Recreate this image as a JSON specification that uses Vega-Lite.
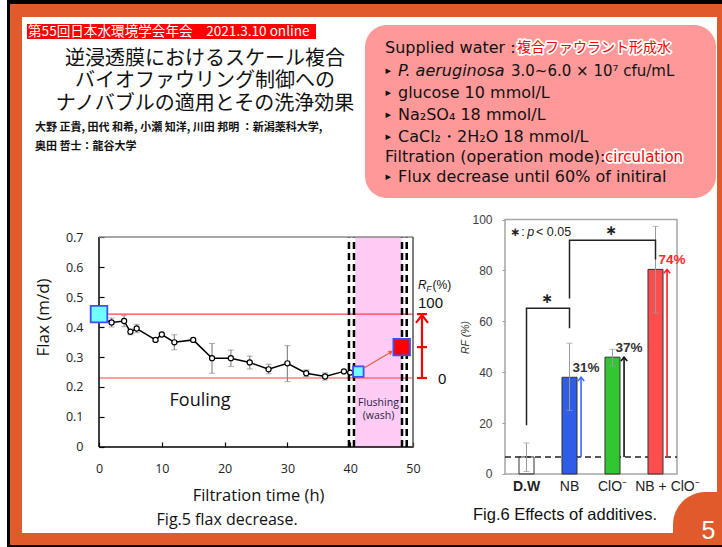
{
"$schema": "https://vega.github.io/schema/vega-lite/v6.json",
"background": "#ffffff",
"padding": {"left": 7, "top": 0, "right": 0, "bottom": 0},
"spacing": 0,
"config": {"view": {"stroke": null}, "axis": {"grid": false}},
"datasets": {
  "flux": [
    {"t": 0, "flux": 0.43, "lo": 0.42, "hi": 0.44},
    {"t": 2, "flux": 0.415, "lo": 0.4, "hi": 0.43},
    {"t": 4, "flux": 0.42, "lo": 0.401, "hi": 0.438},
    {"t": 5, "flux": 0.384, "lo": 0.374, "hi": 0.394},
    {"t": 6, "flux": 0.395, "lo": 0.381, "hi": 0.409},
    {"t": 9, "flux": 0.357, "lo": 0.352, "hi": 0.362},
    {"t": 10, "flux": 0.375, "lo": 0.369, "hi": 0.381},
    {"t": 12, "flux": 0.349, "lo": 0.324, "hi": 0.374},
    {"t": 15, "flux": 0.357, "lo": 0.353, "hi": 0.361},
    {"t": 18, "flux": 0.296, "lo": 0.246, "hi": 0.345},
    {"t": 21, "flux": 0.296, "lo": 0.268, "hi": 0.323},
    {"t": 24, "flux": 0.282, "lo": 0.26, "hi": 0.303},
    {"t": 27, "flux": 0.259, "lo": 0.244, "hi": 0.276},
    {"t": 30, "flux": 0.279, "lo": 0.218, "hi": 0.338},
    {"t": 33, "flux": 0.246, "lo": 0.235, "hi": 0.257},
    {"t": 36, "flux": 0.235, "lo": 0.223, "hi": 0.247},
    {"t": 39, "flux": 0.252, "lo": 0.248, "hi": 0.256},
    {"t": 40, "flux": 0.248, "lo": 0.244, "hi": 0.252}
  ],
  "squares": [
    {"t": 0, "flux": 0.443, "kind": "initial"},
    {"t": 41.3, "flux": 0.251, "kind": "fouled"},
    {"t": 48.2, "flux": 0.333, "kind": "flushed"}
  ],
  "additives": [
    {"cat": "D.W", "rf": 6.7, "lo": 1, "hi": 12.2},
    {"cat": "NB", "rf": 38.0, "lo": 25.0, "hi": 51.4, "gain": "31%"},
    {"cat": "ClO⁻", "rf": 45.9, "lo": 42.4, "hi": 49.0, "gain": "37%"},
    {"cat": "NB + ClO⁻", "rf": 80.4, "lo": 63.2, "hi": 97.3, "gain": "74%"}
  ],
  "brackets": [
    {"g": "a", "o": 1, "cat": "D.W", "y": 19.2},
    {"g": "a", "o": 2, "cat": "D.W", "y": 65.1},
    {"g": "a", "o": 3, "cat": "NB", "y": 65.1},
    {"g": "a", "o": 4, "cat": "NB", "y": 57.3},
    {"g": "b", "o": 1, "cat": "NB", "y": 69.0},
    {"g": "b", "o": 2, "cat": "NB", "y": 91.8},
    {"g": "b", "o": 3, "cat": "NB + ClO⁻", "y": 91.8},
    {"g": "b", "o": 4, "cat": "NB + ClO⁻", "y": 84.3}
  ]
},
"vconcat": [
  {"width": 715, "height": 4, "view": {"fill": "#000000"}, "data": {"values": []}, "mark": "rect", "encoding": {}},
  {"spacing": 0, "hconcat": [
    {"width": 3, "height": 543, "view": {"fill": "#000000"}, "data": {"values": []}, "mark": "rect", "encoding": {}},
    {"spacing": 0, "vconcat": [
      {"width": 712, "height": 13, "view": {"fill": "#E15A2B"}, "data": {"values": []}, "mark": "rect", "encoding": {}},
      {"spacing": 0, "hconcat": [
        {"width": 12, "height": 528, "view": {"fill": "#E15A2B"}, "data": {"values": []}, "mark": "rect", "encoding": {}},
        {"spacing": 0, "vconcat": [
          {"spacing": 0, "hconcat": [
            {"width": 338, "height": 188,
             "layer": [
               {"data": {"values": [{"k": "conference"}]},
                "mark": {"type": "rect", "fill": "#FF0000"},
                "encoding": {
                  "x": {"datum": 5, "type": "quantitative", "scale": {"domain": [0, 338], "nice": false, "zero": false}, "axis": null},
                  "x2": {"datum": 294},
                  "y": {"datum": 7, "type": "quantitative", "scale": {"domain": [0, 188], "nice": false, "zero": false, "reverse": true}, "axis": null},
                  "y2": {"datum": 22}}},
               {"data": {"values": [{"s": "第55回日本水環境学会年会　2021.3.10 online"}]},
                "mark": {"type": "text", "align": "left", "baseline": "middle", "fill": "#FFFFFF", "font": "Noto Sans CJK JP", "fontSize": 13.6},
                "encoding": {"text": {"field": "s"}, "x": {"datum": 6, "axis": null}, "y": {"datum": 14.6, "axis": null}}},
               {"data": {"values": [{"s": ["逆浸透膜におけるスケール複合", "バイオファウリング制御への", "ナノバブルの適用とその洗浄効果"]}]},
                "mark": {"type": "text", "align": "center", "baseline": "middle", "fill": "#111111", "font": "Noto Sans CJK JP", "fontSize": 20, "lineHeight": 22.3},
                "encoding": {"text": {"field": "s"}, "x": {"datum": 183, "axis": null}, "y": {"datum": 42, "axis": null}}},
               {"data": {"values": [{"s": ["大野 正貴, 田代 和希, 小瀬 知洋, 川田 邦明 ：新潟薬科大学,", "奥田 哲士：龍谷大学"]}]},
                "mark": {"type": "text", "align": "left", "baseline": "middle", "fill": "#111111", "font": "Noto Sans CJK JP", "fontSize": 11, "fontWeight": "bold", "lineHeight": 19},
                "encoding": {"text": {"field": "s"}, "x": {"datum": 13, "axis": null}, "y": {"datum": 110.5, "axis": null}}}
             ]},
            {"width": 357, "height": 188,
             "layer": [
               {"data": {"values": [{"k": "conditions"}]},
                "mark": {"type": "rect", "fill": "#FF9999", "cornerRadius": 22},
                "encoding": {
                  "x": {"datum": 5, "type": "quantitative", "scale": {"domain": [0, 357], "nice": false, "zero": false}, "axis": null},
                  "x2": {"datum": 356},
                  "y": {"datum": 8, "type": "quantitative", "scale": {"domain": [0, 188], "nice": false, "zero": false, "reverse": true}, "axis": null},
                  "y2": {"datum": 181}}},
               {"data": {"values": [{"s": "Supplied water :"}]},
                "mark": {"type": "text", "align": "left", "baseline": "middle", "fill": "#111111", "font": "DejaVu Sans", "fontSize": 16},
                "encoding": {"text": {"field": "s"}, "x": {"datum": 25, "axis": null}, "y": {"datum": 31.3, "axis": null}}},
               {"data": {"values": [{"s": ["▸", "▸", "▸", "▸"]}]},
                "mark": {"type": "text", "align": "left", "baseline": "middle", "fill": "#111111", "font": "DejaVu Sans", "fontSize": 11, "lineHeight": 22},
                "encoding": {"text": {"field": "s"}, "x": {"datum": 25.5, "axis": null}, "y": {"datum": 53.7, "axis": null}}},
               {"data": {"values": [{"s": "P. aeruginosa"}]},
                "mark": {"type": "text", "align": "left", "baseline": "middle", "fill": "#111111", "font": "DejaVu Sans", "fontSize": 16, "fontStyle": "italic"},
                "encoding": {"text": {"field": "s"}, "x": {"datum": 38, "axis": null}, "y": {"datum": 53.7, "axis": null}}},
               {"data": {"values": [{"s": "3.0~6.0 × 10⁷ cfu/mL"}]},
                "mark": {"type": "text", "align": "left", "baseline": "middle", "fill": "#111111", "font": "DejaVu Sans", "fontSize": 15},
                "encoding": {"text": {"field": "s"}, "x": {"datum": 151, "axis": null}, "y": {"datum": 53.7, "axis": null}}},
               {"data": {"values": [{"s": ["glucose 10 mmol/L", "Na₂SO₄ 18 mmol/L", "CaCl₂・2H₂O 18 mmol/L"]}]},
                "mark": {"type": "text", "align": "left", "baseline": "middle", "fill": "#111111", "font": "DejaVu Sans", "fontSize": 16, "lineHeight": 22},
                "encoding": {"text": {"field": "s"}, "x": {"datum": 38, "axis": null}, "y": {"datum": 75.7, "axis": null}}},
               {"data": {"values": [{"s": "Filtration (operation mode):"}]},
                "mark": {"type": "text", "align": "left", "baseline": "middle", "fill": "#111111", "font": "DejaVu Sans", "fontSize": 16},
                "encoding": {"text": {"field": "s"}, "x": {"datum": 25, "axis": null}, "y": {"datum": 139.7, "axis": null}}},
               {"data": {"values": [{"s": "▸"}]},
                "mark": {"type": "text", "align": "left", "baseline": "middle", "fill": "#111111", "font": "DejaVu Sans", "fontSize": 11},
                "encoding": {"text": {"field": "s"}, "x": {"datum": 25.5, "axis": null}, "y": {"datum": 159.7, "axis": null}}},
               {"data": {"values": [{"s": "Flux decrease until 60% of initiral"}]},
                "mark": {"type": "text", "align": "left", "baseline": "middle", "fill": "#111111", "font": "DejaVu Sans", "fontSize": 16},
                "encoding": {"text": {"field": "s"}, "x": {"datum": 38, "axis": null}, "y": {"datum": 159.7, "axis": null}}},
               {"data": {"values": [{"s": "複合ファウラント形成水"}]},
                "mark": {"type": "text", "align": "left", "baseline": "middle", "fill": "#FFFFFF", "stroke": "#FFFFFF", "strokeWidth": 3.5, "strokeJoin": "round", "font": "Noto Sans CJK JP", "fontSize": 14},
                "encoding": {"text": {"field": "s"}, "x": {"datum": 157, "axis": null}, "y": {"datum": 31.3, "axis": null}}},
               {"data": {"values": [{"s": "複合ファウラント形成水"}]},
                "mark": {"type": "text", "align": "left", "baseline": "middle", "fill": "#FF0000", "font": "Noto Sans CJK JP", "fontSize": 14},
                "encoding": {"text": {"field": "s"}, "x": {"datum": 157, "axis": null}, "y": {"datum": 31.3, "axis": null}}},
               {"data": {"values": [{"s": "circulation"}]},
                "mark": {"type": "text", "align": "left", "baseline": "middle", "fill": "#FFFFFF", "stroke": "#FFFFFF", "strokeWidth": 3.5, "strokeJoin": "round", "font": "DejaVu Sans", "fontSize": 15},
                "encoding": {"text": {"field": "s"}, "x": {"datum": 245, "axis": null}, "y": {"datum": 139.7, "axis": null}}},
               {"data": {"values": [{"s": "circulation"}]},
                "mark": {"type": "text", "align": "left", "baseline": "middle", "fill": "#FF0000", "font": "DejaVu Sans", "fontSize": 15},
                "encoding": {"text": {"field": "s"}, "x": {"datum": 245, "axis": null}, "y": {"datum": 139.7, "axis": null}}}
             ]}
          ]},
          {"spacing": 0, "hconcat": [
            {"width": 435, "height": 340,
             "layer": [
               {"data": {"values": [{"phase": "flushing"}]},
                "mark": {"type": "rect", "fill": "#FFCCF6"},
                "encoding": {"x": {"datum": 40.8, "type": "quantitative"}, "x2": {"datum": 48.2}, "y": {"datum": 0, "type": "quantitative"}, "y2": {"datum": 0.7}}},
               {"data": {"values": [{"f": 0.443}, {"f": 0.23}]},
                "mark": {"type": "rule", "stroke": "#FF4040", "strokeWidth": 1.2},
                "encoding": {"y": {"field": "f", "type": "quantitative", "title": "Flax (m/d)"}, "x": {"datum": 0}, "x2": {"datum": 50}}},
               {"data": {"values": [{"t": 39.8}, {"t": 40.6}, {"t": 48.25}, {"t": 49.0}]},
                "mark": {"type": "rule", "stroke": "#000000", "strokeWidth": 2.5, "strokeDash": [7, 4]},
                "encoding": {"x": {"field": "t", "type": "quantitative", "title": "Filtration time (h)"}, "y": {"datum": 0}, "y2": {"datum": 0.7}}},
               {"data": {"values": [{"edge": "left"}]},
                "mark": {"type": "rule", "stroke": "#000000", "strokeWidth": 1.5},
                "encoding": {"x": {"datum": 0}, "y": {"datum": 0}, "y2": {"datum": 0.7}}},
               {"data": {"values": [{"edge": "bottom"}]},
                "mark": {"type": "rule", "stroke": "#000000", "strokeWidth": 1.5},
                "encoding": {"y": {"datum": 0}, "x": {"datum": 0}, "x2": {"datum": 50}}},
               {"data": {"values": [{"edge": "top"}]},
                "mark": {"type": "rule", "stroke": "#8A8A8A", "strokeWidth": 1.5},
                "encoding": {"y": {"datum": 0.7}, "x": {"datum": 0}, "x2": {"datum": 50}}},
               {"data": {"values": [{"edge": "right"}]},
                "mark": {"type": "rule", "stroke": "#555555", "strokeWidth": 1.5},
                "encoding": {"x": {"datum": 50}, "y": {"datum": 0}, "y2": {"datum": 0.7}}},
               {"data": {"name": "flux"},
                "mark": {"type": "errorbar", "ticks": {"size": 6, "color": "#8A8A8A", "strokeWidth": 1.2}, "rule": {"color": "#8A8A8A", "strokeWidth": 1.2}},
                "encoding": {"x": {"field": "t", "type": "quantitative", "title": "Filtration time (h)"}, "y": {"field": "lo", "type": "quantitative", "title": "Flax (m/d)"}, "y2": {"field": "hi"}}},
               {"data": {"name": "flux"},
                "mark": {"type": "line", "stroke": "#000000", "strokeWidth": 1.5},
                "encoding": {
                  "x": {"field": "t", "type": "quantitative", "title": "Filtration time (h)",
                        "scale": {"domain": [-12.261, 57.006], "nice": false, "zero": false},
                        "axis": {"orient": "bottom", "offset": -98, "values": [0, 10, 20, 30, 40, 50], "domain": false, "grid": false,
                                 "ticks": true, "tickSize": -5, "tickWidth": 1.2, "tickColor": "#000000",
                                 "labelPadding": 20, "labelFont": "Open Sans", "labelFontSize": 12.5, "labelColor": "#222222", "labelFlush": false,
                                 "title": "Filtration time (h)", "titleFont": "Open Sans", "titleFontSize": 16.5, "titleFontWeight": "normal", "titleColor": "#111111",
                                 "titleX": 236, "titleY": 48, "titleBaseline": "middle", "titleAlign": "center"}},
                  "y": {"field": "flux", "type": "quantitative", "title": "Flax (m/d)",
                        "scale": {"domain": [-0.32667, 0.80667], "nice": false, "zero": false},
                        "axis": {"orient": "left", "offset": -77, "values": [0, 0.1, 0.2, 0.3, 0.4, 0.5, 0.6, 0.7], "format": ".1~f", "domain": false, "grid": false,
                                 "ticks": true, "tickSize": -5, "tickWidth": 1.2, "tickColor": "#000000",
                                 "labelPadding": 21, "labelFont": "Open Sans", "labelFontSize": 12.5, "labelColor": "#222222", "labelFlush": false,
                                 "title": "Flax (m/d)", "titleFont": "Open Sans", "titleFontSize": 17, "titleFontWeight": "normal", "titleColor": "#111111",
                                 "titleX": -56, "titleY": 112, "titleAngle": -90, "titleBaseline": "middle", "titleAlign": "center"}}}},
               {"data": {"name": "flux"},
                "mark": {"type": "point", "shape": "circle", "filled": true, "fill": "#FFFFFF", "stroke": "#000000", "strokeWidth": 1.2, "size": 26, "opacity": 1},
                "encoding": {"x": {"field": "t", "type": "quantitative", "title": "Filtration time (h)"}, "y": {"field": "flux", "type": "quantitative", "title": "Flax (m/d)"}}},
               {"data": {"name": "squares"},
                "mark": {"type": "point", "shape": "square", "filled": true, "stroke": "#3F4FFF", "strokeWidth": 1.8, "opacity": 1},
                "encoding": {
                  "x": {"field": "t", "type": "quantitative", "title": "Filtration time (h)"}, "y": {"field": "flux", "type": "quantitative", "title": "Flax (m/d)"},
                  "fill": {"condition": {"test": "datum.kind === 'flushed'", "value": "#FF0000"}, "value": "#6FFFFF"},
                  "size": {"condition": {"test": "datum.kind === 'fouled'", "value": 110}, "value": 275}}},
               {"data": {"values": [{"a": "recovery"}]},
                "mark": {"type": "rule", "stroke": "#E8603C", "strokeWidth": 1.2},
                "encoding": {"x": {"datum": 42.2}, "y": {"datum": 0.263}, "x2": {"datum": 46.5}, "y2": {"datum": 0.317}}},
               {"data": {"values": [{"a": "recovery"}]},
                "mark": {"type": "point", "shape": "triangle-up", "filled": true, "fill": "#E8603C", "strokeWidth": 0, "size": 26, "angle": 58, "opacity": 1},
                "encoding": {"x": {"datum": 46.5}, "y": {"datum": 0.317}}},
               {"data": {"values": [{"a": "rf"}]},
                "mark": {"type": "rule", "stroke": "#FF0000", "strokeWidth": 2.2},
                "encoding": {"x": {"datum": 51.43}, "y": {"datum": 0.23}, "y2": {"datum": 0.443}}},
               {"data": {"values": [{"f": 0.443}, {"f": 0.333}, {"f": 0.23}]},
                "mark": {"type": "rule", "stroke": "#FF0000", "strokeWidth": 2.2},
                "encoding": {"y": {"field": "f", "type": "quantitative", "title": "Flax (m/d)"}, "x": {"datum": 50.64}, "x2": {"datum": 52.23}}},
               {"data": {"values": [{"a": "rf"}]},
                "mark": {"type": "point", "shape": "M-1,1.3L0,0L1,1.3", "filled": false, "stroke": "#FF0000", "strokeWidth": 2.2, "size": 144, "opacity": 1},
                "encoding": {"x": {"datum": 51.43}, "y": {"datum": 0.44}}},
               {"data": {"values": [{"s": "Fouling"}]},
                "mark": {"type": "text", "align": "center", "baseline": "middle", "font": "Open Sans", "fontSize": 18, "fill": "#111111"},
                "encoding": {"text": {"field": "s"}, "x": {"datum": 16.1}, "y": {"datum": 0.153}}},
               {"data": {"values": [{"s": ["Flushing", "(wash)"]}]},
                "mark": {"type": "text", "align": "center", "baseline": "middle", "font": "Open Sans", "fontSize": 10.5, "fill": "#1F2440", "lineHeight": 13.5},
                "encoding": {"text": {"field": "s"}, "x": {"datum": 44.5}, "y": {"datum": 0.148}}},
               {"data": {"values": [{"s": "100"}]},
                "mark": {"type": "text", "align": "left", "baseline": "middle", "font": "Liberation Sans", "fontSize": 15, "fill": "#111111"},
                "encoding": {"text": {"field": "s"}, "x": {"datum": 50.8}, "y": {"datum": 0.48}}},
               {"data": {"values": [{"s": "0"}]},
                "mark": {"type": "text", "align": "left", "baseline": "middle", "font": "Liberation Sans", "fontSize": 15, "fill": "#111111"},
                "encoding": {"text": {"field": "s"}, "x": {"datum": 53.98}, "y": {"datum": 0.227}}},
               {"data": {"values": [{"s": "R"}]},
                "mark": {"type": "text", "align": "left", "baseline": "middle", "font": "Liberation Sans", "fontSize": 12, "fontStyle": "italic", "fill": "#111111"},
                "encoding": {"text": {"field": "s"}, "x": {"datum": 50.8}, "y": {"datum": 0.54}}},
               {"data": {"values": [{"s": "F"}]},
                "mark": {"type": "text", "align": "left", "baseline": "middle", "font": "Liberation Sans", "fontSize": 8.5, "fontStyle": "italic", "fill": "#111111"},
                "encoding": {"text": {"field": "s"}, "x": {"datum": 52.1}, "y": {"datum": 0.527}}},
               {"data": {"values": [{"s": "(%)"}]},
                "mark": {"type": "text", "align": "left", "baseline": "middle", "font": "Liberation Sans", "fontSize": 12, "fill": "#111111"},
                "encoding": {"text": {"field": "s"}, "x": {"datum": 53.1}, "y": {"datum": 0.54}}},
               {"data": {"values": [{"s": "Fig.5  flax decrease."}]},
                "mark": {"type": "text", "align": "center", "baseline": "middle", "font": "Open Sans", "fontSize": 16, "fill": "#111111"},
                "encoding": {"text": {"field": "s"}, "x": {"datum": 20.4}, "y": {"datum": -0.243}}},
               {"data": {"values": [{"k": "frame"}]},
                "mark": {"type": "rect", "fill": "#E15A2B", "clip": true},
                "encoding": {"x": {"datum": -20}, "x2": {"datum": 70}, "y": {"datum": -0.28667}, "y2": {"datum": -0.5}}}
             ]},
            {"width": 260, "height": 340,
             "layer": [
               {"data": {"values": [{"k": "box"}]},
                "mark": {"type": "rect", "fill": "transparent", "stroke": "#A6A6A6", "strokeWidth": 1.5},
                "encoding": {"x": {"datum": "D.W", "bandPosition": -0.933}, "x2": {"datum": "NB + ClO⁻", "bandPosition": 1.933}, "y": {"datum": 0}, "y2": {"datum": 100}}},
               {"data": {"values": [{"k": "baseline"}]},
                "mark": {"type": "rule", "stroke": "#222222", "strokeWidth": 1.5, "strokeDash": [6, 4]},
                "encoding": {"x": {"datum": "D.W", "bandPosition": -0.933}, "x2": {"datum": "NB + ClO⁻", "bandPosition": 1.933}, "y": {"datum": 6.7}}},
               {"data": {"name": "additives"},
                "mark": {"type": "bar", "stroke": "#333333", "strokeWidth": 1},
                "encoding": {
                  "x": {"field": "cat", "type": "nominal", "sort": null,
                        "scale": {"domain": ["D.W", "NB", "ClO⁻", "NB + ClO⁻"], "range": [48, 220], "paddingInner": 0.651, "paddingOuter": 0.3255, "align": 0.5},
                        "axis": {"orient": "bottom", "offset": -71, "domain": false, "ticks": false, "grid": false, "labelAngle": 0, "bandPosition": 0.5,
                                 "labelAlign": "center", "labelPadding": 12, "labelFont": "Liberation Sans", "labelFontSize": 14, "labelColor": "#222222",
                                 "labelFontWeight": {"condition": {"test": "datum.value === 'D.W'", "value": "bold"}, "value": "normal"},
                                 "labelOffset": {"condition": {"test": "datum.value === 'NB + ClO⁻'", "value": 12}, "value": 0},
                                 "title": null}},
                  "y": {"field": "rf", "type": "quantitative", "title": "RF (%)",
                        "scale": {"domain": [-27.9, 105.7], "nice": false, "zero": false},
                        "axis": {"orient": "left", "offset": -48, "values": [0, 20, 40, 60, 80, 100], "domain": false, "grid": false,
                                 "ticks": true, "tickSize": 3, "tickColor": "#999999",
                                 "labelPadding": 10, "labelFont": "Liberation Sans", "labelFontSize": 12, "labelColor": "#404040",
                                 "title": "RF (%)", "titleFont": "Liberation Sans", "titleFontSize": 10.5, "titleFontWeight": "normal", "titleFontStyle": "italic", "titleColor": "#333333",
                                 "titleX": -40, "titleY": 132, "titleAngle": -90, "titleBaseline": "middle", "titleAlign": "center"}},
                  "color": {"field": "cat", "type": "nominal", "scale": {"domain": ["D.W", "NB", "ClO⁻", "NB + ClO⁻"], "range": ["rgba(255,255,255,0)", "#2F5DE8", "#33C633", "#FF4D4D"]}, "legend": null}}},
               {"data": {"name": "additives"},
                "mark": {"type": "errorbar", "ticks": {"size": 6, "color": "#9A9A9A", "strokeWidth": 1}, "rule": {"color": "#9A9A9A", "strokeWidth": 1}},
                "encoding": {"x": {"field": "cat", "type": "nominal"}, "y": {"field": "lo", "type": "quantitative", "title": "RF (%)"}, "y2": {"field": "hi"}}},
               {"data": {"name": "additives"},
                "transform": [{"filter": "datum.gain"}],
                "mark": {"type": "rule", "strokeWidth": 1.6},
                "encoding": {
                  "x": {"field": "cat", "type": "nominal", "bandPosition": 1.27},
                  "y": {"field": "rf", "type": "quantitative", "title": "RF (%)"}, "y2": {"datum": 6.7},
                  "stroke": {"condition": [{"test": "datum.cat === 'NB'", "value": "#3D6BFF"}, {"test": "datum.cat === 'NB + ClO⁻'", "value": "#FF1E1E"}], "value": "#111111"}}},
               {"data": {"name": "additives"},
                "transform": [{"filter": "datum.gain"}],
                "mark": {"type": "point", "shape": "M-1,1.2L0,0L1,1.2", "filled": false, "strokeWidth": 1.6, "size": 40, "opacity": 1},
                "encoding": {
                  "x": {"field": "cat", "type": "nominal", "bandPosition": 1.27},
                  "y": {"field": "rf", "type": "quantitative", "title": "RF (%)"},
                  "stroke": {"condition": [{"test": "datum.cat === 'NB'", "value": "#3D6BFF"}, {"test": "datum.cat === 'NB + ClO⁻'", "value": "#FF1E1E"}], "value": "#111111"}}},
               {"data": {"name": "additives"},
                "transform": [{"filter": "datum.gain"}],
                "mark": {"type": "text", "align": "left", "baseline": "middle", "dy": -9, "font": "Liberation Sans", "fontSize": 13.5, "fontWeight": "bold"},
                "encoding": {
                  "x": {"field": "cat", "type": "nominal", "bandPosition": 0.7},
                  "y": {"field": "rf", "type": "quantitative", "title": "RF (%)"},
                  "text": {"field": "gain"},
                  "fill": {"condition": {"test": "datum.cat === 'NB + ClO⁻'", "value": "#FF2A2A"}, "value": "#333333"}}},
               {"data": {"name": "brackets"},
                "mark": {"type": "line", "stroke": "#222222", "strokeWidth": 1.5},
                "encoding": {"x": {"field": "cat", "type": "nominal"}, "y": {"field": "y", "type": "quantitative", "title": "RF (%)"}, "detail": {"field": "g"}, "order": {"field": "o"}}},
               {"data": {"values": [{"s": "∗"}]},
                "mark": {"type": "text", "align": "center", "baseline": "middle", "font": "DejaVu Sans", "fontSize": 14, "fontWeight": "bold", "fill": "#222222"},
                "encoding": {"text": {"field": "s"}, "x": {"datum": "D.W", "bandPosition": 1.87}, "y": {"datum": 68.8}}},
               {"data": {"values": [{"s": "∗"}]},
                "mark": {"type": "text", "align": "center", "baseline": "middle", "font": "DejaVu Sans", "fontSize": 14, "fontWeight": "bold", "fill": "#222222"},
                "encoding": {"text": {"field": "s"}, "x": {"datum": "ClO⁻", "bandPosition": 0.4}, "y": {"datum": 95.6}}},
               {"data": {"values": [{"s": "∗"}]},
                "mark": {"type": "text", "align": "center", "baseline": "middle", "font": "DejaVu Sans", "fontSize": 12, "fontWeight": "bold", "fill": "#222222"},
                "encoding": {"text": {"field": "s"}, "x": {"datum": "D.W", "bandPosition": -0.27}, "y": {"datum": 95.2}}},
               {"data": {"values": [{"s": ":"}]},
                "mark": {"type": "text", "align": "center", "baseline": "middle", "font": "Liberation Sans", "fontSize": 12.5, "fill": "#222222"},
                "encoding": {"text": {"field": "s"}, "x": {"datum": "D.W", "bandPosition": 0.27}, "y": {"datum": 95.2}}},
               {"data": {"values": [{"s": "p"}]},
                "mark": {"type": "text", "align": "left", "baseline": "middle", "font": "Liberation Sans", "fontSize": 12.5, "fontStyle": "italic", "fill": "#222222"},
                "encoding": {"text": {"field": "s"}, "x": {"datum": "D.W", "bandPosition": 0.55}, "y": {"datum": 95.2}}},
               {"data": {"values": [{"s": "< 0.05"}]},
                "mark": {"type": "text", "align": "left", "baseline": "middle", "font": "Liberation Sans", "fontSize": 12.5, "fill": "#222222"},
                "encoding": {"text": {"field": "s"}, "x": {"datum": "D.W", "bandPosition": 1.133}, "y": {"datum": 95.2}}},
               {"data": {"values": [{"s": "Fig.6  Effects of additives."}]},
                "mark": {"type": "text", "align": "center", "baseline": "middle", "font": "Liberation Sans", "fontSize": 16.5, "fill": "#111111"},
                "encoding": {"text": {"field": "s"}, "x": {"datum": "NB", "bandPosition": 0.2}, "y": {"datum": -16.1}}},
               {"data": {"values": [{"k": "frame"}]},
                "mark": {"type": "rect", "fill": "#E15A2B", "clip": true},
                "encoding": {"x": {"datum": "D.W", "bandPosition": -12}, "x2": {"datum": "NB + ClO⁻", "bandPosition": 12}, "y": {"datum": -23.18}, "y2": {"datum": -40}}},
               {"data": {"values": [{"k": "corner"}]},
                "mark": {"type": "rect", "fill": "#E15A2B", "clip": true, "cornerRadiusTopLeft": 42},
                "encoding": {"x": {"datum": "NB + ClO⁻", "bandPosition": 1.667}, "x2": {"datum": "NB + ClO⁻", "bandPosition": 6}, "y": {"datum": -7.07}, "y2": {"datum": -40}}},
               {"data": {"values": [{"s": "5"}]},
                "mark": {"type": "text", "align": "center", "baseline": "middle", "font": "Liberation Sans", "fontSize": 25, "fill": "#FFFFFF"},
                "encoding": {"text": {"field": "s"}, "x": {"datum": "NB + ClO⁻", "bandPosition": 4.03}, "y": {"datum": -22.4}}}
             ]}
          ]}
        ]},
        {"width": 5, "height": 528, "view": {"fill": "#E15A2B"}, "data": {"values": []}, "mark": "rect", "encoding": {}}
      ]},
      {"width": 712, "height": 2, "view": {"fill": "#000000"}, "data": {"values": []}, "mark": "rect", "encoding": {}}
    ]}
  ]}
]
}
